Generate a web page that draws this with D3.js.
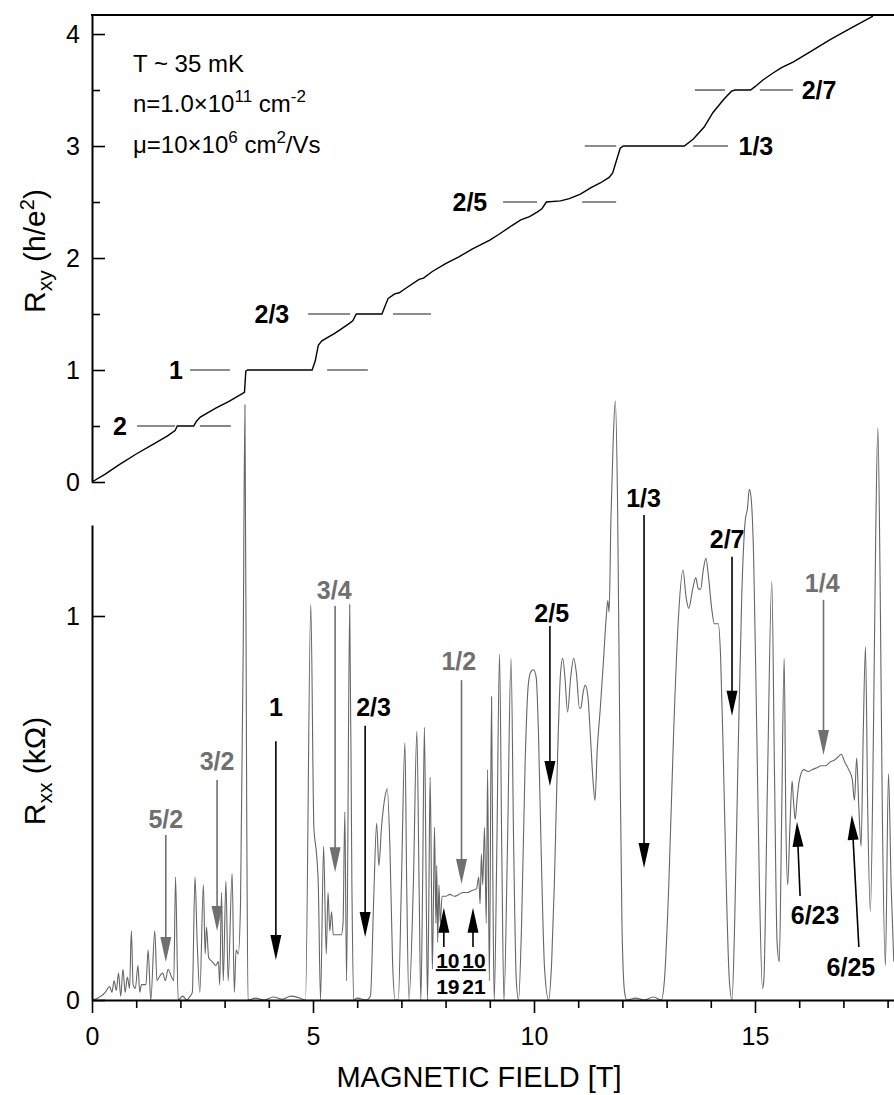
<!DOCTYPE html>
<html>
<head>
<meta charset="utf-8">
<script src="https://cdn.jsdelivr.net/npm/d3@7"></script>
<style>
  body { margin: 0; background: #fff; }
  svg { display: block; }
  text { font-family: 'Liberation Sans', Arial, Helvetica, sans-serif; }
</style>
</head>
<body>
<div id="chart"></div>
<script>
// Hall resistance Rxy (h/e^2) vs field (T)
var rxyField = [0, 0.3, 0.6, 1.0, 1.4, 1.7, 1.88, 1.93, 2.30, 2.36, 2.45, 2.8, 3.1, 3.4, 3.45, 3.48, 3.52,
  4.98, 5.05, 5.12, 5.2, 5.5, 5.8, 5.9, 5.98, 6.56, 6.62, 6.7, 6.85, 6.95, 7.1, 7.4, 7.5, 7.7, 8.0,
  8.3, 8.6, 8.9, 9.0, 9.2, 9.5, 9.7, 9.9, 10.07, 10.18, 10.28, 10.6, 10.8, 11.05, 11.3, 11.5, 11.7,
  11.78, 11.85, 11.95, 12.02, 13.4, 13.6, 13.85, 14.05, 14.3, 14.47, 14.55, 14.9, 15.0, 15.18, 15.4,
  15.6, 15.86, 16.2, 16.7, 17.2, 17.67];
var rxyValue = [0, 0.07, 0.15, 0.25, 0.34, 0.41, 0.46, 0.5, 0.5, 0.54, 0.58, 0.66, 0.72, 0.79, 0.8, 0.99, 1.0,
  1.0, 1.08, 1.22, 1.26, 1.33, 1.41, 1.44, 1.5, 1.5, 1.56, 1.64, 1.68, 1.69, 1.73, 1.81, 1.82, 1.88, 1.95,
  2.01, 2.08, 2.14, 2.16, 2.21, 2.29, 2.34, 2.37, 2.41, 2.44, 2.5, 2.51, 2.53, 2.57, 2.63, 2.67, 2.72,
  2.76, 2.85, 2.98, 3.0, 3.0, 3.06, 3.17, 3.3, 3.42, 3.49, 3.5, 3.5, 3.53, 3.59, 3.65,
  3.7, 3.75, 3.83, 3.95, 4.06, 4.16];

// longitudinal resistance Rxx (kOhm) vs field (T)
var rxxField = [0, 0.1, 0.2, 0.3, 0.4, 0.45, 0.5, 0.55, 0.6, 0.65, 0.7, 0.75, 0.8, 0.85, 0.89, 0.93, 0.98,
  1.04, 1.08, 1.12, 1.22, 1.27, 1.33, 1.42, 1.47, 1.52, 1.6, 1.66, 1.72, 1.8, 1.85, 1.89, 1.95, 2.05,
  2.15, 2.22, 2.27, 2.33, 2.38, 2.44, 2.52, 2.56, 2.59, 2.64, 2.72, 2.8, 2.86, 2.89, 2.93, 2.97, 3.03,
  3.08, 3.17, 3.22, 3.26, 3.31, 3.36, 3.42, 3.46, 3.5, 3.53, 3.7, 3.9, 4.1, 4.3, 4.5, 4.7, 4.83,
  4.95, 5.02, 5.08, 5.12, 5.17, 5.24, 5.3, 5.34, 5.38, 5.42, 5.46, 5.55, 5.64, 5.68, 5.72, 5.76, 5.83,
  5.88, 5.92, 6.0, 6.2, 6.3, 6.37, 6.44, 6.49, 6.55, 6.63, 6.68, 6.74, 6.8, 6.86, 6.93, 7.0, 7.08,
  7.12, 7.17, 7.27, 7.35, 7.4, 7.44, 7.48, 7.52, 7.56, 7.59, 7.62, 7.65, 7.68, 7.7, 7.73, 7.75, 7.78,
  7.8, 7.82, 7.85, 7.88, 7.92, 8.0, 8.1, 8.2, 8.3, 8.4, 8.5, 8.6, 8.7, 8.75, 8.78, 8.81, 8.84, 8.88,
  8.92, 8.95, 8.99, 9.04, 9.07, 9.1, 9.16, 9.22, 9.27, 9.32, 9.4, 9.48, 9.54, 9.6, 9.65, 9.72, 9.8,
  9.87, 9.93, 9.99, 10.05, 10.1, 10.16, 10.24, 10.33, 10.4, 10.46, 10.53, 10.6, 10.65, 10.7, 10.76,
  10.83, 10.9, 10.96, 11.03, 11.06, 11.11, 11.16, 11.22, 11.28, 11.33, 11.38, 11.43, 11.5, 11.57,
  11.63, 11.67, 11.7, 11.74, 11.79, 11.84, 11.89, 11.94, 11.99, 12.05, 12.1, 12.3, 12.5, 12.7, 12.88,
  12.95, 13.05, 13.16, 13.27, 13.37, 13.44, 13.5, 13.59, 13.66, 13.72, 13.77, 13.83, 13.89, 13.95,
  14.02, 14.08, 14.17, 14.22, 14.28, 14.35, 14.42, 14.48, 14.54, 14.62, 14.7, 14.78, 14.83, 14.87,
  14.91, 14.97, 15.04, 15.1, 15.17, 15.2, 15.28, 15.38, 15.44, 15.5, 15.55, 15.6, 15.66, 15.7, 15.74,
  15.79, 15.84, 15.87, 15.91, 15.95, 16.0, 16.1, 16.2, 16.3, 16.4, 16.5, 16.6, 16.7, 16.8, 16.9,
  16.95, 17.03, 17.12, 17.2, 17.25, 17.3, 17.35, 17.4, 17.45, 17.5, 17.55, 17.61, 17.68, 17.73, 17.78,
  17.83, 17.88, 17.95, 18.02, 18.08, 18.14];
var rxxValue = [0, 0.003, 0.01, 0.02, 0.035, 0.02, 0.05, 0.025, 0.07, 0.01, 0.08, 0.02, 0.06, 0.03, 0.18, 0.04, 0.03,
  0.09, 0.02, 0.04, 0.04, 0.13, 0.0, 0.18, 0.05, 0.06, 0.07, 0.05, 0.08, 0.06, 0.05, 0.32, 0.0, 0.01,
  0.0, 0.01, 0.02, 0.32, 0.15, 0.02, 0.30, 0.12, 0.19, 0.11, 0.10, 0.09, 0.10, 0.04, 0.28, 0.05, 0.31,
  0.05, 0.33, 0.02, 0.13, 0.12, 0.25, 0.9, 1.55, 0.5, 0.0, 0.005, 0.0, 0.008, 0.002, 0.01, 0.005, 0.0,
  1.03, 0.45, 0.38, 0.30, 0.0, 0.40, 0.12, 0.28, 0.18, 0.23, 0.17, 0.17, 0.17, 0.20, 0.49, 0.05, 1.03,
  0.3, 0.0, 0.005, 0.0, 0.01, 0.25, 0.46, 0.35, 0.45, 0.53, 0.55, 0.4, 0.1, 0.0, 0.0, 0.3, 0.67,
  0.3, 0.0, 0.3, 0.70, 0.3, 0.0, 0.3, 0.71, 0.3, 0.0, 0.25, 0.58, 0.3, 0.08, 0.30, 0.45, 0.2,
  0.35, 0.15, 0.3, 0.2, 0.27, 0.27, 0.275, 0.27, 0.275, 0.28, 0.28, 0.285, 0.29, 0.32, 0.25, 0.38, 0.3, 0.45,
  0.2, 0.60, 0.05, 0.79, 0.3, 0.0, 0.4, 0.90, 0.4, 0.0, 0.4, 0.89, 0.4, 0.05, 0.0, 0.2, 0.62,
  0.82, 0.855, 0.86, 0.84, 0.7, 0.4, 0.08, 0.0, 0.1, 0.3, 0.62, 0.85, 0.89, 0.84, 0.75,
  0.84, 0.89, 0.85, 0.76, 0.76, 0.80, 0.82, 0.79, 0.68, 0.58, 0.52, 0.65, 0.76, 0.88,
  0.99, 1.04, 1.01, 1.25, 1.45, 1.56, 1.3, 0.7, 0.2, 0.02, 0.0, 0.005, 0.0, 0.008, 0.0,
  0.05, 0.3, 0.7, 1.0, 1.12, 1.05, 1.02, 1.07, 1.10, 1.07, 1.07, 1.12, 1.15, 1.1,
  1.02, 0.98, 0.98, 0.9, 0.65, 0.3, 0.05, 0.0, 0.2, 0.65, 1.05, 1.25, 1.28, 1.33,
  1.31, 1.15, 0.7, 0.3, 0.03, 0.05, 0.55, 1.09, 0.6, 0.15, 0.10, 0.45, 0.89, 0.45, 0.30,
  0.45, 0.57, 0.52, 0.47, 0.52, 0.57, 0.60, 0.595, 0.60, 0.605, 0.61, 0.61, 0.62, 0.625, 0.635,
  0.64, 0.62, 0.6, 0.575, 0.52, 0.63, 0.5, 0.40, 0.7, 0.92, 0.5, 0.23, 0.7, 1.2, 1.49,
  1.1, 0.5, 0.09, 0.59, 0.3, 0.1];

// filling factors marked on the Rxy trace
var plateauLabel = ["2", "1", "2/3", "2/5", "1/3", "2/7"];
var plateauValue = [0.5, 1, 1.5, 2.5, 3, 3.5];
var plateauDashLeft = [[1.02, 1.88], [2.22, 3.12], [4.89, 5.84], [9.30, 10.07], [11.15, 11.86], [13.64, 14.32]];
var plateauDashRight = [[2.44, 3.14], [5.32, 6.24], [6.81, 7.67], [11.09, 11.86], [13.60, 14.39], [15.11, 15.86]];
var plateauLabelField = [0.63, 1.90, 4.07, 8.55, 15.02, 16.45];

// arrows pointing down onto the Rxx trace
var downLabel = ["5/2", "3/2", "1", "3/4", "2/3", "1/2", "2/5", "1/3", "2/7", "1/4"];
var downGray = [true, true, false, true, false, true, false, false, false, true];
var downField = [1.67, 2.83, 4.16, 5.50, 6.18, 8.36, 10.36, 12.49, 14.48, 16.55];
var downLabelField = [1.67, 2.83, 4.16, 5.48, 6.37, 8.30, 10.40, 12.48, 14.37, 16.52];
var downLabelR = [0.471, 0.622, 0.763, 1.068, 0.763, 0.883, 1.008, 1.307, 1.20, 1.086];
var downFromR = [0.43, 0.573, 0.674, 1.026, 0.714, 0.833, 0.974, 1.263, 1.154, 1.042];
var downToR = [0.099, 0.18, 0.104, 0.333, 0.164, 0.302, 0.557, 0.344, 0.74, 0.638];

// arrows pointing up, label below
var upLabel = ["6/23", "6/25"];
var upFromField = [16.02, 17.35], upFromR = [0.271, 0.138];
var upToField = [15.95, 17.19], upToR = [0.464, 0.482];
var upLabelField = [16.36, 17.17], upLabelR = [0.221, 0.086];

// stacked fractions near 1/2
var fracNum = ["10", "10"], fracDen = ["19", "21"];
var fracField = [7.96, 8.62], fracLabelField = [8.05, 8.64];
var fracFromR = 0.138, fracToR = 0.24, fracNumR = 0.104, fracDenR = 0.036;

var grayC = "#707070";

var svg = d3.select("#chart").append("svg")
    .attr("width", 894)
    .attr("height", 1095);

var x = d3.scaleLinear().domain([0, 18.145]).range([92, 894]);
var yTop = d3.scaleLinear().domain([0, 4.17]).range([482, 15]);
var yBot = d3.scaleLinear().domain([0, 1.237]).range([1000, 525]);

svg.append("clipPath").attr("id", "plotclip")
  .append("rect").attr("x", 92).attr("y", 15).attr("width", 802).attr("height", 985);

var plot = svg.append("g").attr("clip-path", "url(#plotclip)");

// dashed plateau markers
plateauValue.forEach(function(v, i) {
  [plateauDashLeft[i], plateauDashRight[i]].forEach(function(seg) {
    plot.append("line")
      .attr("x1", x(seg[0])).attr("x2", x(seg[1]))
      .attr("y1", yTop(v)).attr("y2", yTop(v))
      .attr("stroke", "#666").attr("stroke-width", 1.6);
  });
  svg.append("text")
    .attr("x", x(plateauLabelField[i]))
    .attr("y", yTop(v))
    .attr("dy", "0.36em")
    .attr("text-anchor", "middle")
    .style("font-size", "25px")
    .style("font-weight", "bold")
    .text(plateauLabel[i]);
});

var rxyData = rxyField.map(function(b, i) { return [b, rxyValue[i]]; });
var rxxData = rxxField.map(function(b, i) { return [b, rxxValue[i]]; });

var lineTop = d3.line()
    .x(function(d) { return x(d[0]); })
    .y(function(d) { return yTop(d[1]); });

var lineBot = d3.line()
    .x(function(d) { return x(d[0]); })
    .y(function(d) { return yBot(d[1]); })
    .curve(d3.curveMonotoneX);

plot.append("path")
    .datum(rxxData)
    .attr("d", lineBot)
    .attr("fill", "none")
    .attr("stroke", "#666")
    .attr("stroke-width", 1.1)
    .attr("stroke-linejoin", "round");

plot.append("path")
    .datum(rxyData)
    .attr("d", lineTop)
    .attr("fill", "none")
    .attr("stroke", "#000")
    .attr("stroke-width", 1.4);

// arrow helper: shaft + slender head at (x2,y2)
function arrow(x1, y1, x2, y2, col) {
  var dx = x2 - x1, dy = y2 - y1, len = Math.sqrt(dx * dx + dy * dy);
  var ux = dx / len, uy = dy / len, hl = 25, hw = 5.5;
  var bx = x2 - ux * hl, by = y2 - uy * hl;
  svg.append("line")
    .attr("x1", x1).attr("y1", y1)
    .attr("x2", x2 - ux * (hl - 4)).attr("y2", y2 - uy * (hl - 4))
    .attr("stroke", col).attr("stroke-width", 1.6);
  svg.append("path")
    .attr("d", "M" + x2 + "," + y2 + "L" + (bx - uy * hw) + "," + (by + ux * hw) +
               "L" + (bx + uy * hw) + "," + (by - ux * hw) + "Z")
    .attr("fill", col);
}

downLabel.forEach(function(lab, i) {
  var col = downGray[i] ? grayC : "#000";
  arrow(x(downField[i]), yBot(downFromR[i]), x(downField[i]), yBot(downToR[i]), col);
  svg.append("text")
    .attr("x", x(downLabelField[i]))
    .attr("y", yBot(downLabelR[i]))
    .attr("dy", "0.36em")
    .attr("text-anchor", "middle")
    .attr("fill", col)
    .style("font-size", "25px")
    .style("font-weight", "bold")
    .text(lab);
});

upLabel.forEach(function(lab, i) {
  arrow(x(upFromField[i]), yBot(upFromR[i]), x(upToField[i]), yBot(upToR[i]), "#000");
  svg.append("text")
    .attr("x", x(upLabelField[i]))
    .attr("y", yBot(upLabelR[i]))
    .attr("dy", "0.36em")
    .attr("text-anchor", "middle")
    .style("font-size", "25px")
    .style("font-weight", "bold")
    .text(lab);
});

fracNum.forEach(function(n, i) {
  var cx = x(fracLabelField[i]);
  arrow(x(fracField[i]), yBot(fracFromR), x(fracField[i]), yBot(fracToR), "#000");
  svg.append("text").attr("x", cx).attr("y", yBot(fracNumR)).attr("dy", "0.36em")
    .attr("text-anchor", "middle").style("font-size", "21px").style("font-weight", "bold").text(n);
  svg.append("line")
    .attr("x1", cx - 12).attr("x2", cx + 12)
    .attr("y1", (yBot(fracNumR) + yBot(fracDenR)) / 2 - 3)
    .attr("y2", (yBot(fracNumR) + yBot(fracDenR)) / 2 - 3)
    .attr("stroke", "#000").attr("stroke-width", 2);
  svg.append("text").attr("x", cx).attr("y", yBot(fracDenR)).attr("dy", "0.36em")
    .attr("text-anchor", "middle").style("font-size", "21px").style("font-weight", "bold").text(fracDen[i]);
});

// axes
function styleAxis(g, fs) {
  g.select(".domain").attr("stroke-width", 2);
  g.selectAll(".tick line").attr("stroke-width", 1.6);
  g.selectAll(".tick text").style("font-size", fs).attr("fill", "#000")
    .style("font-family", "'Liberation Sans', Arial, sans-serif");
}

svg.append("g")
    .attr("transform", "translate(0,1000)")
    .call(d3.axisBottom(x).tickValues([0, 5, 10, 15]).tickFormat(d3.format("d"))
      .tickSize(13).tickSizeOuter(0).tickPadding(14))
    .call(styleAxis, "25px");

svg.append("g")
    .attr("transform", "translate(0,1000)")
    .call(d3.axisBottom(x).tickValues(d3.range(1, 19).filter(function(v) { return v % 5; }))
      .tickSize(8).tickFormat(""))
    .call(function(g) { g.select(".domain").remove(); g.selectAll("line").attr("stroke-width", 1.6); });

svg.append("g")
    .attr("transform", "translate(92,0)")
    .call(d3.axisLeft(yTop).tickValues([0, 1, 2, 3, 4]).tickFormat(d3.format("d"))
      .tickSizeInner(-13).tickSizeOuter(0).tickPadding(12))
    .call(styleAxis, "25px");

svg.append("g")
    .attr("transform", "translate(92,0)")
    .call(d3.axisLeft(yTop).tickValues([0.5, 1.5, 2.5, 3.5]).tickSizeInner(-8).tickSizeOuter(0).tickFormat(""))
    .call(function(g) { g.select(".domain").remove(); g.selectAll("line").attr("stroke-width", 1.6); });

svg.append("g")
    .attr("transform", "translate(92,0)")
    .call(d3.axisLeft(yBot).tickValues([0, 1]).tickFormat(d3.format("d"))
      .tickSizeInner(-13).tickSizeOuter(0).tickPadding(12))
    .call(styleAxis, "25px");

// top frame
svg.append("line")
    .attr("x1", x.range()[0] - 1).attr("x2", x.range()[1])
    .attr("y1", yTop.range()[1]).attr("y2", yTop.range()[1])
    .attr("stroke", "#000").attr("stroke-width", 2);

// axis titles
svg.append("text")
    .attr("x", 479).attr("y", 1087)
    .attr("text-anchor", "middle")
    .style("font-size", "29px")
    .text("MAGNETIC FIELD [T]");

var t1 = svg.append("text")
    .attr("transform", "translate(45,251) rotate(-90)")
    .attr("text-anchor", "middle")
    .style("font-size", "30px");
t1.append("tspan").text("R");
t1.append("tspan").attr("dy", 7).style("font-size", "21px").text("xy");
t1.append("tspan").attr("dy", -7).text(" (h/e");
t1.append("tspan").attr("dy", -11).style("font-size", "20px").text("2");
t1.append("tspan").attr("dy", 11).text(")");

var t2 = svg.append("text")
    .attr("transform", "translate(45,771) rotate(-90)")
    .attr("text-anchor", "middle")
    .style("font-size", "30px");
t2.append("tspan").text("R");
t2.append("tspan").attr("dy", 7).style("font-size", "21px").text("xx");
t2.append("tspan").attr("dy", -7).text(" (k\u03A9)");

// sample parameters
var info = svg.append("g").style("font-size", "24px");
info.append("text").attr("x", 133).attr("y", 72).text("T ~ 35 mK");
var n1 = info.append("text").attr("x", 133).attr("y", 112);
n1.append("tspan").text("n=1.0\u00D710");
n1.append("tspan").attr("dy", -10).style("font-size", "17px").text("11");
n1.append("tspan").attr("dy", 10).text(" cm");
n1.append("tspan").attr("dy", -10).style("font-size", "17px").text("-2");
var n2 = info.append("text").attr("x", 133).attr("y", 153);
n2.append("tspan").text("\u03BC=10\u00D710");
n2.append("tspan").attr("dy", -10).style("font-size", "17px").text("6");
n2.append("tspan").attr("dy", 10).text(" cm");
n2.append("tspan").attr("dy", -10).style("font-size", "17px").text("2");
n2.append("tspan").attr("dy", 10).text("/Vs");
</script>
</body>
</html>
